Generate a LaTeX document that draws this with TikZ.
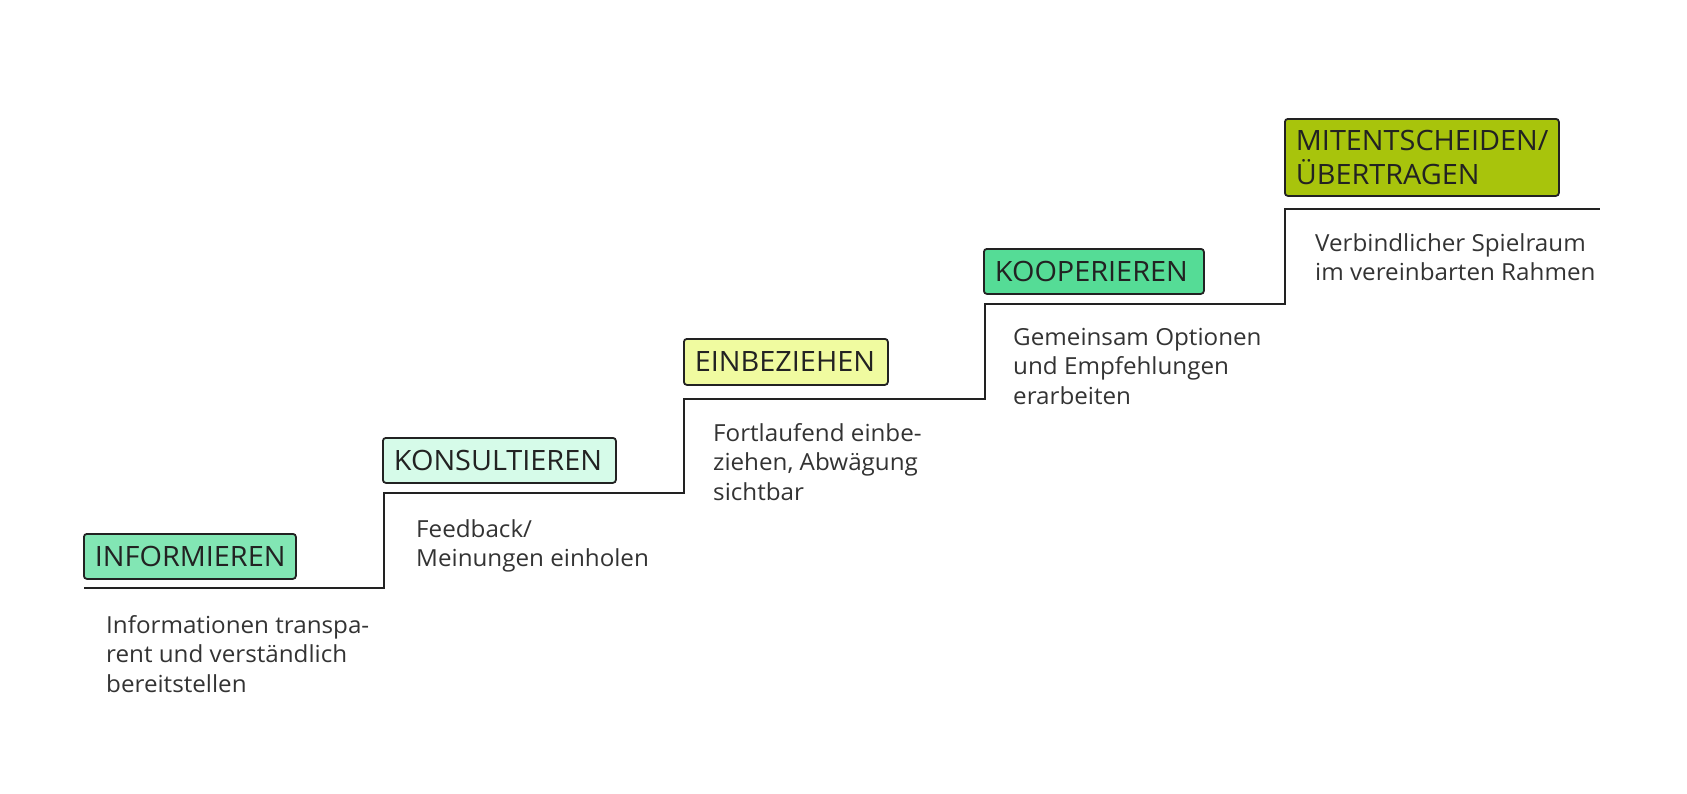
\documentclass[tikz,border=0pt]{standalone}
\usepackage{fontspec}
\setmainfont[FakeStretch=1.03]{Open Sans}
\definecolor{inkc}{HTML}{222222}
\definecolor{txtc}{HTML}{333333}
\definecolor{cinf}{HTML}{82E6B4}
\definecolor{ckon}{HTML}{D6FBE9}
\definecolor{cein}{HTML}{F0FBA0}
\definecolor{ckoo}{HTML}{55DC96}
\definecolor{cmit}{HTML}{A8C40C}
\newcommand{\desclines}[1]{\begin{tabular}[t]{@{}l@{}}#1\end{tabular}}
\begin{document}
\begin{tikzpicture}[x=1pt,y=-1pt,
  stagebox/.style={draw=inkc, line width=1.8pt, rounded corners=3pt, anchor=north west,
    inner xsep=11pt, inner ysep=0pt, align=left, text=inkc,
    font=\fontsize{28}{34}\selectfont},
  desc/.style={anchor=base west, inner sep=0pt, text=txtc,
    font=\fontsize{23.5}{29.5}\selectfont},
  stair/.style={draw=inkc, line width=2.2pt}]
\useasboundingbox (0,0) rectangle (1687,793);
% staircase corners
\coordinate (s0) at (84,588);
\coordinate (s1) at (384,588);
\coordinate (s2) at (384,493);
\coordinate (s3) at (684,493);
\coordinate (s4) at (684,399);
\coordinate (s5) at (985,399);
\coordinate (s6) at (985,304);
\coordinate (s7) at (1285,304);
\coordinate (s8) at (1285,209);
\coordinate (s9) at (1600,209);
\draw[stair] (s0) -- (s1) -- (s2) -- (s3) -- (s4) -- (s5) -- (s6) -- (s7) -- (s8) -- (s9);
% stage labels
\node[stagebox, fill=cinf, minimum width=212pt, minimum height=45pt, text width=190pt] (inf) at (83,533) {INFORMIEREN};
\node[stagebox, fill=ckon, minimum width=233pt, minimum height=45pt, text width=211pt] (kon) at (382,437) {KONSULTIEREN};
\node[stagebox, fill=cein, minimum width=204pt, minimum height=46pt, text width=182pt] (ein) at (683,338) {EINBEZIEHEN};
\node[stagebox, fill=ckoo, minimum width=220pt, minimum height=45pt, text width=198pt] (koo) at (983,248) {KOOPERIEREN};
\node[stagebox, fill=cmit, minimum width=274pt, minimum height=77pt, text width=252pt] (mit) at (1284,118) {MITENTSCHEIDEN/\\ÜBERTRAGEN};
% descriptions
\node[desc] (dinf) at (106,633) {\desclines{Informationen transpa-\\rent und verständlich\\bereitstellen}};
\node[desc] (dkon) at (416,537) {\desclines{Feedback/\\Meinungen einholen}};
\node[desc] (dein) at (713,441) {\desclines{Fortlaufend einbe-\\ziehen, Abwägung\\sichtbar}};
\node[desc] (dkoo) at (1013,345) {\desclines{Gemeinsam Optionen\\und Empfehlungen\\erarbeiten}};
\node[desc] (dmit) at (1315,251) {\desclines{Verbindlicher Spielraum\\im vereinbarten Rahmen}};
\end{tikzpicture}
\end{document}
